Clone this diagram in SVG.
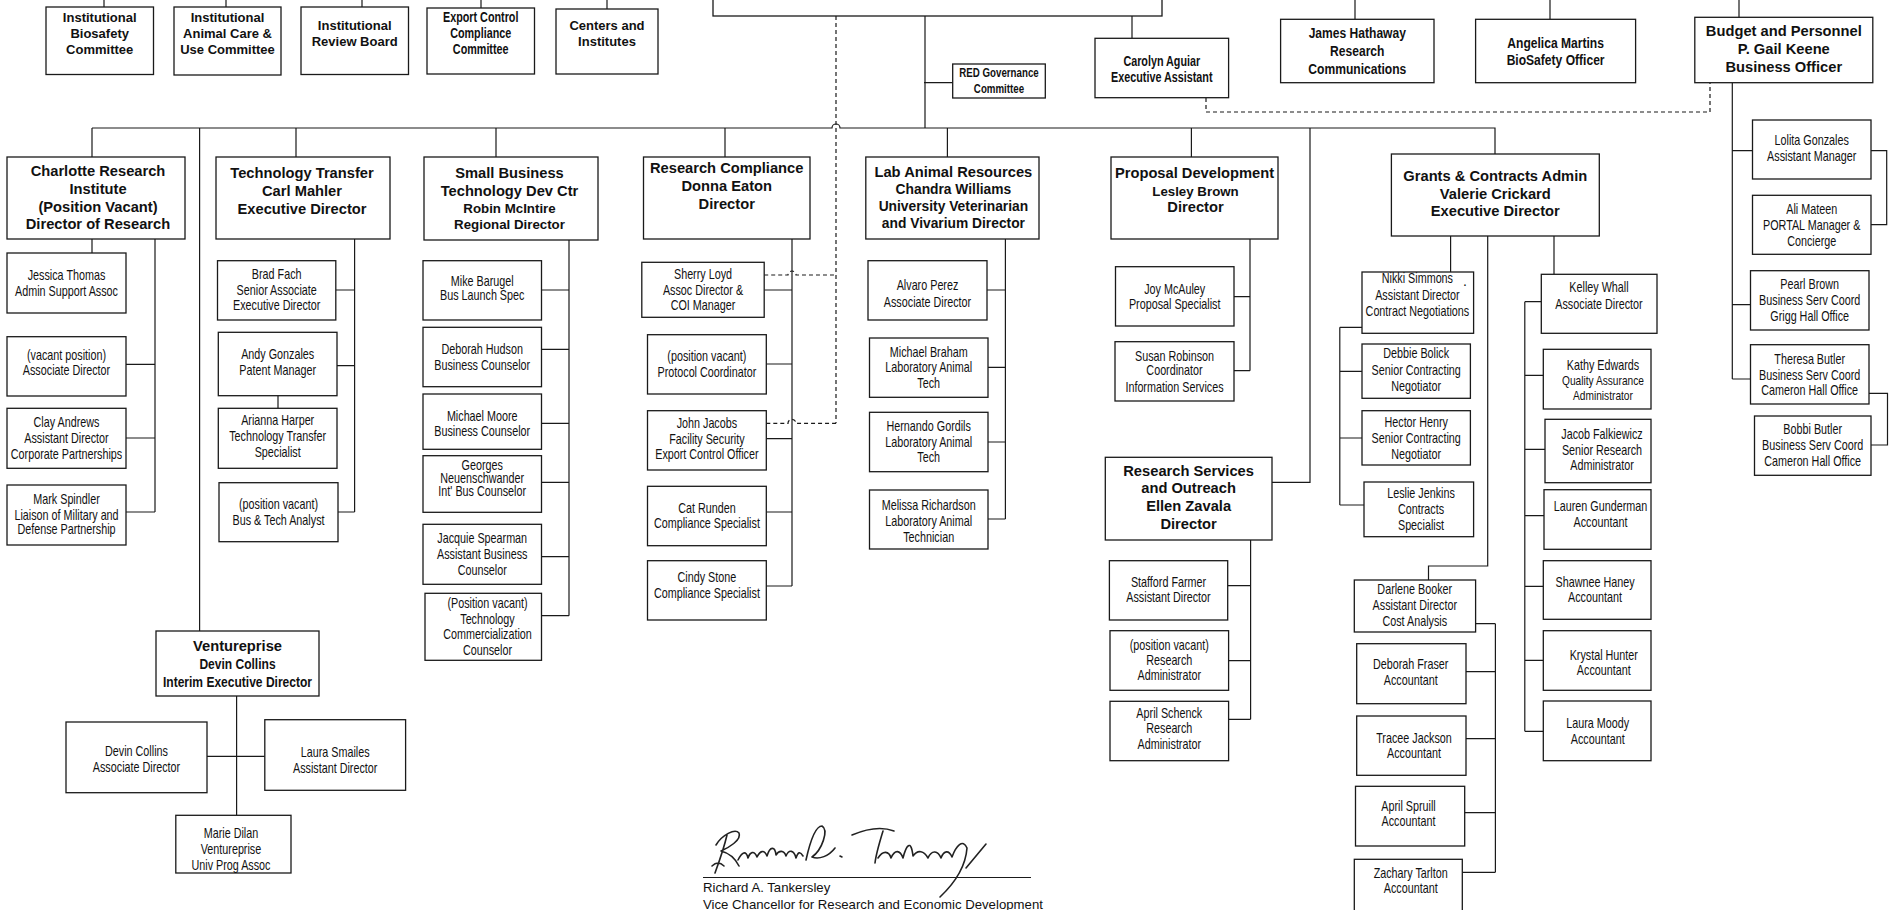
<svg xmlns="http://www.w3.org/2000/svg" width="1892" height="910" viewBox="0 0 1892 910">
<style>
.s{fill:#fff;stroke:#1a1a1a;stroke-width:1.3}
.c{fill:none;stroke:#1a1a1a;stroke-width:1.2}
.d{fill:none;stroke:#1a1a1a;stroke-width:1.2;stroke-dasharray:4 3}
text{fill:#111;text-anchor:middle}
.h{font:bold 14.7px "Liberation Sans",Arial,sans-serif}
.h2{font:bold 13.3px "Liberation Sans",Arial,sans-serif}
.h3{font:bold 13.8px "Liberation Sans",Arial,sans-serif}
.t{font:bold 13px "Liberation Sans",Arial,sans-serif}
.nb{font-family:"Liberation Sans",Arial,sans-serif;font-weight:bold}
.n{font-family:"Liberation Sans",Arial,sans-serif;font-size:14px}
.sig{font:13.2px "Liberation Sans",Arial,sans-serif;text-anchor:start}
.pen{fill:none;stroke:#222;stroke-width:1.6;stroke-linecap:round;stroke-linejoin:round}
</style>
<rect width="1892" height="910" fill="#fff"/>

<g id="connectors">
<path class="c" d="M104,0V7M226,0V7M362,0V7M481,0V8M607,0V9M1355,0V19M1550,0V19M1739,0V17"/>
<path class="c" d="M925,16V128M1132,16V38M924,82.7H952.7"/>
<path class="c" d="M92,128H832A4,4 0 0 1 840,128H1495V154"/>
<path class="d" d="M836,16V423.3"/>
<path class="d" d="M764.2,275H788A4,4 0 0 1 796,275H836M766.3,423.3H788A4,4 0 0 1 796,423.3H836"/>
<path class="d" d="M1206,98V112H1710V83"/>
<path class="c" d="M92,128V157M296,128V157M496,128V157M725,128V157M947.4,128V157M1191.4,128V157M199.6,128V631M1310,128V482.3H1272"/>
<path class="c" d="M92,239V253M155,239V512M126,364.3H155M126,438H155M126,512H155"/>
<path class="c" d="M354.6,239V512M335.8,290H354.6M337,365.7H354.6M338,512H354.6M278,395.7V408.3"/>
<path class="c" d="M569,240V615.7M541.5,290H569M541.5,349.3H569M541.5,423.3H569M541.5,482.3H569M541.5,556.7H569M541.5,615.7H569"/>
<path class="c" d="M236.6,696V815.3M207,756.3H264.8"/>
<path class="c" d="M792,239V586M764.2,290H792M766.3,364H792M766.3,438.7H792M766.3,512H792M766.3,586H792"/>
<path class="c" d="M1005.4,239V519M987,290H1005.4M988,367.3H1005.4M988,442H1005.4M988,519H1005.4"/>
<path class="c" d="M1250,239V370.7M1234,296.7H1250M1234,370.7H1250"/>
<path class="c" d="M1250.6,540V719.3M1227.7,585.7H1250.6M1228.6,660.7H1250.6M1228.6,719.3H1250.6"/>
<path class="c" d="M1450.6,236V272M1339.8,327.3V505M1339.8,327.3H1362M1339.8,371.3H1362M1339.8,438H1362M1339.8,505H1364"/>
<path class="c" d="M1487.7,236V566H1428.5V580M1495.4,623.7V872.3M1475.6,623.7H1495.4M1466,671.7H1495.4M1466,738.7H1495.4M1464.7,812.7H1495.4M1462.3,872.3H1495.4"/>
<path class="c" d="M1554,236V274.3M1524.8,301.7V731.3M1524.8,301.7H1541.3M1524.8,375.3H1543.3M1524.8,449.3H1545M1524.8,515.7H1544M1524.8,586.3H1543.3M1524.8,660.3H1543.3M1524.8,731.3H1543.3"/>
<path class="c" d="M1732.3,83V379M1732.3,150.7H1752.5M1732.3,304.7H1750.5M1732.3,379H1750.5M1871,150.7H1886.7V224.7H1871M1869,393.3H1887.5V445H1871"/>
</g>

<g id="vc"><rect class="s" x="713" y="-5" width="449" height="21"/></g>

<g id="biosafety"><rect class="s" x="46" y="7" width="107.5" height="67.5"/><text class="t"><tspan x="99.7" y="22">Institutional</tspan><tspan x="99.7" y="38">Biosafety</tspan><tspan x="99.7" y="54">Committee</tspan></text></g>
<g id="animalcare"><rect class="s" x="174" y="7" width="107" height="68"/><text class="t"><tspan x="227.5" y="22">Institutional</tspan><tspan x="227.5" y="38">Animal Care &amp;</tspan><tspan x="227.5" y="54">Use Committee</tspan></text></g>
<g id="irb"><rect class="s" x="301" y="7" width="107.5" height="67.5"/><text class="t"><tspan x="354.7" y="30.4">Institutional</tspan><tspan x="354.7" y="46.4">Review Board</tspan></text></g>
<g id="exportcc"><rect class="s" x="427" y="8" width="107.5" height="66"/><text class="nb" font-size="14" transform="matrix(.77 0 0 1 110.56 0)"><tspan x="480.7" y="22.3">Export Control</tspan><tspan x="480.7" y="38.3">Compliance</tspan><tspan x="480.7" y="54.3">Committee</tspan></text></g>
<g id="centers"><rect class="s" x="556" y="9" width="102" height="65"/><text class="t"><tspan x="607" y="30.4">Centers and</tspan><tspan x="607" y="46.4">Institutes</tspan></text></g>

<g id="hathaway"><rect class="s" x="1280.6" y="19.3" width="153.4" height="63.4"/><text class="nb" font-size="15.3" transform="matrix(.79 0 0 1 285.03 0)"><tspan x="1357.3" y="38.5">James Hathaway</tspan><tspan x="1357.3" y="56.5">Research</tspan><tspan x="1357.3" y="74.5">Communications</tspan></text></g>
<g id="martins"><rect class="s" x="1475.6" y="19.3" width="160" height="63.4"/><text class="nb" font-size="15.3" transform="matrix(.79 0 0 1 326.68 0)"><tspan x="1555.6" y="47.8">Angelica Martins</tspan><tspan x="1555.6" y="65.5">BioSafety Officer</tspan></text></g>
<g id="budget"><rect class="s" x="1694.8" y="17.3" width="178" height="65.4"/><text class="h"><tspan x="1783.8" y="36.3">Budget and Personnel</tspan><tspan x="1783.8" y="54.3">P. Gail Keene</tspan><tspan x="1783.8" y="72">Business Officer</tspan></text></g>
<g id="aguiar"><rect class="s" x="1095" y="38.3" width="133.6" height="59.4"/><text class="nb" font-size="14" transform="matrix(.77 0 0 1 267.21 0)"><tspan x="1161.8" y="65.7">Carolyn Aguiar</tspan><tspan x="1161.8" y="81.7">Executive Assistant</tspan></text></g>
<g id="redgov"><rect class="s" x="952.7" y="64" width="92.6" height="34"/><text class="nb" font-size="12.8" transform="matrix(.76 0 0 1 239.76 0)"><tspan x="999" y="77.3">RED Governance</tspan><tspan x="999" y="93.3">Committee</tspan></text></g>

<g id="charlotte"><rect class="s" x="7" y="157" width="178" height="82"/><text class="h"><tspan x="98" y="176.3">Charlotte Research</tspan><tspan x="98" y="194.3">Institute</tspan><tspan x="98" y="211.6">(Position Vacant)</tspan><tspan x="98" y="229.3">Director of Research</tspan></text></g>
<g id="techtransfer"><rect class="s" x="216" y="157" width="174" height="82"/><text class="h"><tspan x="302" y="178.3">Technology Transfer</tspan><tspan x="302" y="195.6">Carl Mahler</tspan><tspan x="302" y="213.6">Executive Director</tspan></text></g>
<g id="sbtdc"><rect class="s" x="424" y="157" width="174" height="83"/><text class="h"><tspan x="509.5" y="178.3">Small Business</tspan><tspan x="509.5" y="195.6">Technology Dev Ctr</tspan></text><text class="h2"><tspan x="509.5" y="212.5">Robin McIntire</tspan><tspan x="509.5" y="228.5">Regional Director</tspan></text></g>
<g id="compliance"><rect class="s" x="643.5" y="157" width="166.5" height="82"/><text class="h"><tspan x="726.7" y="173">Research Compliance</tspan><tspan x="726.7" y="191">Donna Eaton</tspan><tspan x="726.7" y="209">Director</tspan></text></g>
<g id="labanimal"><rect class="s" x="865.8" y="157" width="173.2" height="82"/><text class="h"><tspan x="953.4" y="177.3">Lab Animal Resources</tspan></text><text class="h3"><tspan x="953.4" y="194.3">Chandra Williams</tspan><tspan x="953.4" y="211">University Veterinarian</tspan><tspan x="953.4" y="228">and Vivarium Director</tspan></text></g>
<g id="proposal"><rect class="s" x="1111" y="157" width="167" height="82"/><text class="h"><tspan x="1194.5" y="178.3">Proposal Development</tspan></text><text class="h2"><tspan x="1195.5" y="195.5">Lesley Brown</tspan></text><text class="h"><tspan x="1195.5" y="212">Director</tspan></text></g>
<g id="grants"><rect class="s" x="1391.4" y="154" width="207.9" height="82"/><text class="h"><tspan x="1495.3" y="181">Grants &amp; Contracts Admin</tspan><tspan x="1495.3" y="199">Valerie Crickard</tspan><tspan x="1495.3" y="216.3">Executive Director</tspan></text></g>
<g id="resservices"><rect class="s" x="1105.3" y="457.3" width="166.7" height="82.7"/><text class="h"><tspan x="1188.6" y="476.3">Research Services</tspan><tspan x="1188.6" y="493.3">and Outreach</tspan><tspan x="1188.6" y="511.3">Ellen Zavala</tspan><tspan x="1188.6" y="529.3">Director</tspan></text></g>
<g id="ventureprise"><rect class="s" x="156" y="631" width="163" height="65"/><text class="h"><tspan x="237.5" y="651.3">Ventureprise</tspan></text><text class="nb" font-size="14.5" transform="matrix(.83 0 0 1 40.38 0)"><tspan x="237.5" y="669.2">Devin Collins</tspan><tspan x="237.5" y="687.2">Interim Executive Director</tspan></text></g>

<g id="jessica"><rect class="s" x="7" y="253" width="119" height="60"/><text class="n" transform="matrix(.77 0 0 1 15.30 0)"><tspan x="66.5" y="279.7">Jessica Thomas</tspan><tspan x="66.5" y="295.7">Admin Support Assoc</tspan></text></g>
<g id="cri-vacant"><rect class="s" x="7" y="336.7" width="119" height="59.3"/><text class="n" transform="matrix(.77 0 0 1 15.30 0)"><tspan x="66.5" y="360">(vacant position)</tspan><tspan x="66.5" y="374.7">Associate Director</tspan></text></g>
<g id="andrews"><rect class="s" x="7" y="408.3" width="119" height="60"/><text class="n" transform="matrix(.77 0 0 1 15.30 0)"><tspan x="66.5" y="426.7">Clay  Andrews</tspan><tspan x="66.5" y="442.7">Assistant Director</tspan><tspan x="66.5" y="458.7">Corporate Partnerships</tspan></text></g>
<g id="spindler"><rect class="s" x="7" y="485" width="119" height="60"/><text class="n" transform="matrix(.77 0 0 1 15.30 0)"><tspan x="66.5" y="503.7">Mark Spindler</tspan><tspan x="66.5" y="519.7">Liaison of Military and</tspan><tspan x="66.5" y="534.3">Defense Partnership</tspan></text></g>

<g id="fach"><rect class="s" x="217.5" y="260.7" width="118.3" height="59.3"/><text class="n" transform="matrix(.77 0 0 1 63.64 0)"><tspan x="276.7" y="278.7">Brad Fach</tspan><tspan x="276.7" y="294.7">Senior Associate</tspan><tspan x="276.7" y="310.3">Executive Director</tspan></text></g>
<g id="gonzales-a"><rect class="s" x="218.3" y="332.3" width="118.7" height="63.4"/><text class="n" transform="matrix(.77 0 0 1 63.87 0)"><tspan x="277.7" y="358.7">Andy Gonzales</tspan><tspan x="277.7" y="374.7">Patent Manager</tspan></text></g>
<g id="harper"><rect class="s" x="218.3" y="408.3" width="118.7" height="60"/><text class="n" transform="matrix(.77 0 0 1 63.87 0)"><tspan x="277.7" y="424.7">Arianna Harper</tspan><tspan x="277.7" y="440.7">Technology Transfer</tspan><tspan x="277.7" y="456.7">Specialist</tspan></text></g>
<g id="tt-vacant"><rect class="s" x="219" y="482.7" width="119" height="59"/><text class="n" transform="matrix(.77 0 0 1 64.06 0)"><tspan x="278.5" y="508.7">(position vacant)</tspan><tspan x="278.5" y="524.7">Bus &amp; Tech Analyst</tspan></text></g>

<g id="barugel"><rect class="s" x="423" y="260.7" width="118.5" height="59.3"/><text class="n" transform="matrix(.77 0 0 1 110.91 0)"><tspan x="482.2" y="286">Mike Barugel</tspan><tspan x="482.2" y="300.5">Bus Launch Spec</tspan></text></g>
<g id="hudson"><rect class="s" x="423" y="327.3" width="118.5" height="59.4"/><text class="n" transform="matrix(.77 0 0 1 110.91 0)"><tspan x="482.2" y="353.7">Deborah Hudson</tspan><tspan x="482.2" y="369.7">Business Counselor</tspan></text></g>
<g id="moore"><rect class="s" x="423" y="394" width="118.5" height="55.3"/><text class="n" transform="matrix(.77 0 0 1 110.91 0)"><tspan x="482.2" y="420.7">Michael Moore</tspan><tspan x="482.2" y="435.7">Business Counselor</tspan></text></g>
<g id="neuenschwander"><rect class="s" x="423" y="455.7" width="118.5" height="56.6"/><text class="n" transform="matrix(.77 0 0 1 110.91 0)"><tspan x="482.2" y="470.5">Georges</tspan><tspan x="482.2" y="482.7">Neuenschwander</tspan><tspan x="482.2" y="495.7">Int' Bus Counselor</tspan></text></g>
<g id="spearman"><rect class="s" x="423" y="524.3" width="118.5" height="60"/><text class="n" transform="matrix(.77 0 0 1 110.91 0)"><tspan x="482.2" y="542.7">Jacquie Spearman</tspan><tspan x="482.2" y="558.7">Assistant Business</tspan><tspan x="482.2" y="574.7">Counselor</tspan></text></g>
<g id="sb-vacant"><rect class="s" x="425" y="593.3" width="116.5" height="67"/><text class="n" transform="matrix(.77 0 0 1 112.13 0)"><tspan x="487.5" y="607.7">(Position vacant)</tspan><tspan x="487.5" y="623.7">Technology</tspan><tspan x="487.5" y="639.3">Commercialization</tspan><tspan x="487.5" y="654.7">Counselor</tspan></text></g>

<g id="collins"><rect class="s" x="66" y="722" width="141" height="70.7"/><text class="n" transform="matrix(.77 0 0 1 31.40 0)"><tspan x="136.5" y="755.7">Devin Collins</tspan><tspan x="136.5" y="771.7">Associate Director</tspan></text></g>
<g id="smailes"><rect class="s" x="264.8" y="719.7" width="140.8" height="70.6"/><text class="n" transform="matrix(.77 0 0 1 77.10 0)"><tspan x="335.2" y="756.7">Laura Smailes</tspan><tspan x="335.2" y="772.7">Assistant Director</tspan></text></g>
<g id="dilan"><rect class="s" x="175.8" y="815.3" width="115.2" height="57.7"/><text class="n" transform="matrix(.77 0 0 1 53.13 0)"><tspan x="231" y="837.7">Marie Dilan</tspan><tspan x="231" y="853.7">Ventureprise</tspan><tspan x="231" y="869.7">Univ Prog Assoc</tspan></text></g>

<g id="loyd"><rect class="s" x="641.8" y="262.3" width="122.4" height="55"/><text class="n" transform="matrix(.77 0 0 1 161.69 0)"><tspan x="703" y="278.7">Sherry Loyd</tspan><tspan x="703" y="294.7">Assoc Director &amp;</tspan><tspan x="703" y="310.3">COI Manager</tspan></text></g>
<g id="rc-vacant"><rect class="s" x="647.5" y="334.7" width="118.8" height="59.3"/><text class="n" transform="matrix(.77 0 0 1 162.59 0)"><tspan x="706.9" y="360.7">(position vacant)</tspan><tspan x="706.9" y="376.7">Protocol Coordinator</tspan></text></g>
<g id="jacobs"><rect class="s" x="647.5" y="410.7" width="118.8" height="59.3"/><text class="n" transform="matrix(.77 0 0 1 162.59 0)"><tspan x="706.9" y="427.7">John Jacobs</tspan><tspan x="706.9" y="443.7">Facility Security</tspan><tspan x="706.9" y="459.3">Export Control Officer</tspan></text></g>
<g id="runden"><rect class="s" x="647.5" y="486.3" width="118.8" height="59.4"/><text class="n" transform="matrix(.77 0 0 1 162.59 0)"><tspan x="706.9" y="512.7">Cat Runden</tspan><tspan x="706.9" y="527.7">Compliance Specialist</tspan></text></g>
<g id="stone"><rect class="s" x="647.5" y="560.7" width="118.8" height="59.3"/><text class="n" transform="matrix(.77 0 0 1 162.59 0)"><tspan x="706.9" y="581.7">Cindy Stone</tspan><tspan x="706.9" y="597.7">Compliance Specialist</tspan></text></g>

<g id="perez"><rect class="s" x="868" y="260.7" width="119" height="59.3"/><text class="n" transform="matrix(.77 0 0 1 213.33 0)"><tspan x="927.5" y="290">Alvaro Perez</tspan><tspan x="927.5" y="306.7">Associate Director</tspan></text></g>
<g id="braham"><rect class="s" x="869.5" y="338" width="118.5" height="59.3"/><text class="n" transform="matrix(.77 0 0 1 213.60 0)"><tspan x="928.7" y="356.7">Michael Braham</tspan><tspan x="928.7" y="372.3">Laboratory Animal</tspan><tspan x="928.7" y="387.7">Tech</tspan></text></g>
<g id="gordils"><rect class="s" x="869.5" y="412.3" width="118.5" height="59.4"/><text class="n" transform="matrix(.77 0 0 1 213.60 0)"><tspan x="928.7" y="430.7">Hernando Gordils</tspan><tspan x="928.7" y="446.7">Laboratory Animal</tspan><tspan x="928.7" y="461.7">Tech</tspan></text></g>
<g id="richardson"><rect class="s" x="869.5" y="490" width="118.5" height="59"/><text class="n" transform="matrix(.77 0 0 1 213.60 0)"><tspan x="928.7" y="509.7">Melissa Richardson</tspan><tspan x="928.7" y="525.7">Laboratory Animal</tspan><tspan x="928.7" y="541.7">Technician</tspan></text></g>

<g id="mcauley"><rect class="s" x="1115.5" y="266.7" width="118.5" height="59.3"/><text class="n" transform="matrix(.77 0 0 1 270.18 0)"><tspan x="1174.7" y="294">Joy McAuley</tspan><tspan x="1174.7" y="309.3">Proposal Specialist</tspan></text></g>
<g id="robinson"><rect class="s" x="1115" y="341.7" width="119" height="59.3"/><text class="n" transform="matrix(.77 0 0 1 270.14 0)"><tspan x="1174.5" y="360.7">Susan Robinson</tspan><tspan x="1174.5" y="375.3">Coordinator</tspan><tspan x="1174.5" y="391.7">Information Services</tspan></text></g>

<g id="farmer"><rect class="s" x="1109.4" y="560.7" width="118.3" height="59.3"/><text class="n" transform="matrix(.77 0 0 1 268.76 0)"><tspan x="1168.5" y="586.7">Stafford Farmer</tspan><tspan x="1168.5" y="602.3">Assistant Director</tspan></text></g>
<g id="rs-vacant"><rect class="s" x="1110" y="630.7" width="118.6" height="59.6"/><text class="n" transform="matrix(.77 0 0 1 268.94 0)"><tspan x="1169.3" y="649.7">(position vacant)</tspan><tspan x="1169.3" y="664.7">Research</tspan><tspan x="1169.3" y="680.3">Administrator</tspan></text></g>
<g id="schenck"><rect class="s" x="1110" y="701.3" width="118.6" height="59.4"/><text class="n" transform="matrix(.77 0 0 1 268.94 0)"><tspan x="1169.3" y="717.7">April Schenck</tspan><tspan x="1169.3" y="733.3">Research</tspan><tspan x="1169.3" y="749.3">Administrator</tspan></text></g>

<g id="simmons"><rect class="s" x="1362" y="272" width="111.6" height="61.3"/><text class="n" transform="matrix(.77 0 0 1 326.0 0)"><tspan x="1417.4" y="283.3">Nikki Simmons</tspan><tspan x="1417.4" y="300">Assistant Director</tspan><tspan x="1417.4" y="315.7">Contract Negotiations</tspan></text><text class="n" x="1465" y="286">.</text></g>
<g id="bolick"><rect class="s" x="1362" y="344" width="108.4" height="54.3"/><text class="n" transform="matrix(.77 0 0 1 325.73 0)"><tspan x="1416.2" y="358.3">Debbie Bolick</tspan><tspan x="1416.2" y="374.7">Senior Contracting</tspan><tspan x="1416.2" y="390.7">Negotiator</tspan></text></g>
<g id="henry"><rect class="s" x="1362" y="410.7" width="108.4" height="54.3"/><text class="n" transform="matrix(.77 0 0 1 325.73 0)"><tspan x="1416.2" y="426.7">Hector Henry</tspan><tspan x="1416.2" y="442.7">Senior Contracting</tspan><tspan x="1416.2" y="458.7">Negotiator</tspan></text></g>
<g id="jenkins"><rect class="s" x="1364" y="482" width="109.6" height="54.7"/><text class="n" transform="matrix(.77 0 0 1 326.83 0)"><tspan x="1421" y="497.7">Leslie Jenkins</tspan><tspan x="1421" y="513.7">Contracts</tspan><tspan x="1421" y="529.7">Specialist</tspan></text></g>

<g id="booker"><rect class="s" x="1354.3" y="580" width="121.3" height="52"/><text class="n" transform="matrix(.77 0 0 1 325.40 0)"><tspan x="1414.8" y="594.3">Darlene Booker</tspan><tspan x="1414.8" y="610.3">Assistant Director</tspan><tspan x="1414.8" y="625.7">Cost Analysis</tspan></text></g>
<g id="fraser"><rect class="s" x="1356.7" y="643.7" width="109.3" height="60"/><text class="n" transform="matrix(.77 0 0 1 324.46 0)"><tspan x="1410.7" y="668.7">Deborah Fraser</tspan><tspan x="1410.7" y="684.7">Accountant</tspan></text></g>
<g id="jackson"><rect class="s" x="1356.7" y="716" width="109.3" height="59.3"/><text class="n" transform="matrix(.77 0 0 1 325.22 0)"><tspan x="1414" y="742.7">Tracee Jackson</tspan><tspan x="1414" y="757.7">Accountant</tspan></text></g>
<g id="spruill"><rect class="s" x="1355.5" y="786.3" width="109.2" height="59.7"/><text class="n" transform="matrix(.77 0 0 1 323.96 0)"><tspan x="1408.5" y="811">April Spruill</tspan><tspan x="1408.5" y="826.3">Accountant</tspan></text></g>
<g id="tarlton"><rect class="s" x="1354.3" y="859.3" width="108" height="60"/><text class="n" transform="matrix(.77 0 0 1 324.46 0)"><tspan x="1410.7" y="877.7">Zachary Tarlton</tspan><tspan x="1410.7" y="893.3">Accountant</tspan></text></g>

<g id="whall"><rect class="s" x="1541.3" y="274.3" width="115.7" height="59"/><text class="n" transform="matrix(.77 0 0 1 367.77 0)"><tspan x="1599" y="292.3">Kelley Whall</tspan><tspan x="1599" y="308.7">Associate Director</tspan></text></g>
<g id="edwards"><rect class="s" x="1543.3" y="349.3" width="107.7" height="59.7"/><text class="n" transform="matrix(.77 0 0 1 368.69 0)"><tspan x="1603" y="369.7">Kathy Edwards</tspan><tspan x="1603" y="384.8" font-size="13.2">Quality Assurance</tspan><tspan x="1603" y="399.8" font-size="13.2">Administrator</tspan></text></g>
<g id="falkiewicz"><rect class="s" x="1545" y="419.3" width="106" height="63.4"/><text class="n" transform="matrix(.77 0 0 1 368.46 0)"><tspan x="1602" y="438.7">Jacob Falkiewicz</tspan><tspan x="1602" y="454.7">Senior Research</tspan><tspan x="1602" y="470.3">Administrator</tspan></text></g>
<g id="gunderman"><rect class="s" x="1544" y="489.7" width="107" height="59.6"/><text class="n" transform="matrix(.77 0 0 1 368.12 0)"><tspan x="1600.5" y="511">Lauren Gunderman</tspan><tspan x="1600.5" y="526.7">Accountant</tspan></text></g>
<g id="haney"><rect class="s" x="1543.3" y="560.7" width="107.7" height="58.6"/><text class="n" transform="matrix(.77 0 0 1 366.85 0)"><tspan x="1595" y="586.7">Shawnee Haney</tspan><tspan x="1595" y="602.3">Accountant</tspan></text></g>
<g id="hunter"><rect class="s" x="1543.3" y="630.7" width="107.7" height="59.6"/><text class="n" transform="matrix(.77 0 0 1 368.87 0)"><tspan x="1603.8" y="659.7">Krystal Hunter</tspan><tspan x="1603.8" y="675.3">Accountant</tspan></text></g>
<g id="moody"><rect class="s" x="1543.3" y="701" width="107.7" height="59.7"/><text class="n" transform="matrix(.77 0 0 1 367.47 0)"><tspan x="1597.7" y="727.7">Laura Moody</tspan><tspan x="1597.7" y="743.7">Accountant</tspan></text></g>

<g id="gonzales-l"><rect class="s" x="1752.5" y="120" width="118.5" height="59"/><text class="n" transform="matrix(.77 0 0 1 416.69 0)"><tspan x="1811.7" y="144.7">Lolita Gonzales</tspan><tspan x="1811.7" y="160.7">Assistant Manager</tspan></text></g>
<g id="mateen"><rect class="s" x="1752.5" y="195.3" width="118.5" height="59"/><text class="n" transform="matrix(.77 0 0 1 416.69 0)"><tspan x="1811.7" y="213.7">Ali Mateen</tspan><tspan x="1811.7" y="229.7">PORTAL Manager &amp;</tspan><tspan x="1811.7" y="245.7">Concierge</tspan></text></g>
<g id="brown-p"><rect class="s" x="1750.5" y="270.7" width="118.5" height="59.3"/><text class="n" transform="matrix(.77 0 0 1 416.23 0)"><tspan x="1809.7" y="288.7">Pearl Brown</tspan><tspan x="1809.7" y="304.7">Business Serv Coord</tspan><tspan x="1809.7" y="320.7">Grigg Hall Office</tspan></text></g>
<g id="butler-t"><rect class="s" x="1750.5" y="344.7" width="118.5" height="59.3"/><text class="n" transform="matrix(.77 0 0 1 416.23 0)"><tspan x="1809.7" y="363.7">Theresa Butler</tspan><tspan x="1809.7" y="379.7">Business Serv Coord</tspan><tspan x="1809.7" y="395.3">Cameron Hall Office</tspan></text></g>
<g id="butler-b"><rect class="s" x="1754.5" y="416" width="116.5" height="59.3"/><text class="n" transform="matrix(.77 0 0 1 416.92 0)"><tspan x="1812.7" y="434.3">Bobbi Butler</tspan><tspan x="1812.7" y="450.3">Business Serv Coord</tspan><tspan x="1812.7" y="465.7">Cameron Hall Office</tspan></text></g>

<g id="signature">
<path class="c" d="M703,877.5H1031"/>
<path class="pen" d="M716,845C722,835 735,828 739,833C742,840 728,848 721,851C729,853 735,858 739,866M727,835C724,848 719,862 715,873M712,866C716,862 720,862 724,866"/>
<path class="pen" d="M738,860C742,852 746,850 748,858C750,852 754,850 757,857C760,851 764,849 767,856C770,846 775,846 776,855C779,850 784,850 786,856C789,849 794,850 796,858C798,852 800,851 803,856"/>
<path class="pen" d="M806,860C810,842 815,826 822,826C829,830 822,850 812,857C819,860 829,856 835,848M840,856l2,1"/>
<path class="pen" d="M852,835C866,829 881,826 894,831M883,831C879,844 876,854 875,863"/>
<path class="pen" d="M878,858C883,850 889,851 891,858C895,849 900,850 903,858C906,846 911,838 913,856C918,849 924,851 928,858C932,849 938,851 941,858C944,850 949,850 952,857C956,846 963,838 967,848C966,862 958,880 940,897"/>
<path class="pen" d="M966,868L986,844"/>
<text class="sig" x="703" y="892">Richard A. Tankersley</text>
<text class="sig" x="703" y="908.5">Vice Chancellor for Research and Economic Development</text>
</g>
</svg>
